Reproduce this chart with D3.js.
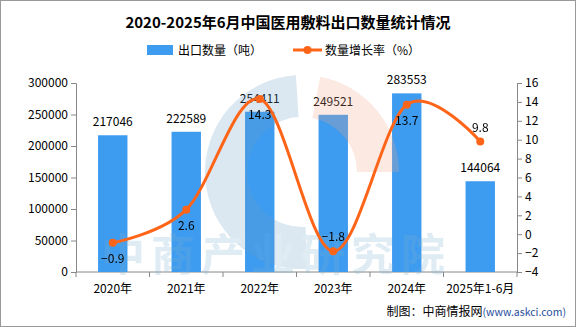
<!DOCTYPE html>
<meta charset="UTF-8">
<style>
body { margin: 0; background: #fff; }
text { font-family: "Noto Sans CJK SC", "DejaVu Sans", sans-serif; }
.axis path, .axis line { stroke: #888; }
.axis text { font-size: 12px; fill: #000; }
</style>
<body>
<script src="https://d3js.org/d3.v7.min.js"></script>
<script>

var categories = ["2020年", "2021年", "2022年", "2023年", "2024年", "2025年1-6月"];
var exportVolume = [217046, 222589, 254411, 249521, 283553, 144064];
var growthRate = [-0.9, 2.6, 14.3, -1.8, 13.7, 9.8];
var leftTicks = [0, 50000, 100000, 150000, 200000, 250000, 300000];
var rightTicks = [-4, -2, 0, 2, 4, 6, 8, 10, 12, 14, 16];
// where the growth label sits: 1 = below the point, -1 = above
var rateLabelSide = [1, 1, 1, -1, 1, -1];

var W = 576, H = 327;
var margin = {top: 83, right: 59, bottom: 55, left: 76};
var width = W - margin.left - margin.right,
    height = H - margin.top - margin.bottom;

var svg = d3.select("body").append("svg")
    .attr("width", W)
    .attr("height", H);

svg.append("rect")
    .attr("x", 0.5).attr("y", 0.5)
    .attr("width", W - 1).attr("height", H - 1)
    .attr("fill", "#fff").attr("stroke", "#999");

svg.append("text")
    .attr("x", W / 2).attr("y", 28)
    .attr("text-anchor", "middle")
    .attr("font-size", 15)
    .attr("font-weight", "bold")
    .text("2020-2025年6月中国医用敷料出口数量统计情况");

// legend
var legend = svg.append("g").attr("font-size", 12);
legend.append("rect")
    .attr("x", 147).attr("y", 45).attr("width", 26).attr("height", 10)
    .attr("fill", "#3d9bf0");
legend.append("text").attr("x", 178).attr("y", 55).text("出口数量（吨）");
legend.append("line")
    .attr("x1", 293).attr("x2", 322).attr("y1", 50).attr("y2", 50)
    .attr("stroke", "#ff6519").attr("stroke-width", 3);
legend.append("circle").attr("cx", 307.5).attr("cy", 50).attr("r", 4).attr("fill", "#ff6519");
legend.append("text").attr("x", 325).attr("y", 55).text("数量增长率（%）");

var g = svg.append("g")
    .attr("transform", "translate(" + margin.left + "," + margin.top + ")");

var x = d3.scaleBand().domain(categories).range([0, width]).paddingInner(0.6).paddingOuter(0.3);
var y = d3.scaleLinear().domain([0, 300000]).range([height, 0]);
var y2 = d3.scaleLinear().domain([-4, 16]).range([height, 0]);

g.append("g")
    .attr("class", "axis")
    .call(d3.axisLeft(y).tickValues(leftTicks).tickSizeOuter(0).tickSize(5).tickFormat(d3.format("d")))
    .call(function(s) { s.selectAll("text").attr("font-size", 12.5); });

g.append("g")
    .attr("class", "axis")
    .attr("transform", "translate(" + width + ",0)")
    .call(d3.axisRight(y2).tickValues(rightTicks).tickSizeOuter(0).tickSize(5).tickFormat(function(d) { return d < 0 ? "−" + Math.abs(d) : d; }))
    .call(function(s) { s.selectAll("text").attr("font-size", 12.5); });

// x axis with ticks on band boundaries
var xAxis = g.append("g").attr("class", "axis").attr("transform", "translate(0," + height + ")");
xAxis.append("line").attr("x1", 0).attr("x2", width).attr("stroke", "#888");
d3.range(categories.length + 1).forEach(function(i) {
  xAxis.append("line")
      .attr("x1", i * width / categories.length).attr("x2", i * width / categories.length)
      .attr("y1", 0).attr("y2", 5).attr("stroke", "#888");
});
xAxis.selectAll("text.cat")
    .data(categories)
  .enter().append("text")
    .attr("class", "cat")
    .attr("x", function(d) { return x(d) + x.bandwidth() / 2; })
    .attr("y", 21)
    .attr("text-anchor", "middle")
    .attr("font-size", 12)
    .text(function(d) { return d; });

// bars
g.selectAll("rect.bar")
    .data(exportVolume)
  .enter().append("rect")
    .attr("class", "bar")
    .attr("x", function(d, i) { return x(categories[i]); })
    .attr("width", x.bandwidth())
    .attr("y", function(d) { return y(d); })
    .attr("height", function(d) { return height - y(d); })
    .attr("fill", "#3d9bf0");

// watermark sits over the bars, under the line
var wm = svg.append("g").attr("opacity", 0.25);
wm.append("path")
    .attr("transform", "translate(302,172)")
    .attr("d", d3.arc().innerRadius(55).outerRadius(97).startAngle(-Math.PI * 0.02).endAngle(-Math.PI * 1.02)())
    .attr("fill", "#6fa3c6");
wm.append("path")
    .attr("transform", "translate(302,172)")
    .attr("d", d3.arc().innerRadius(55).outerRadius(97).startAngle(Math.PI * 0.06).endAngle(Math.PI * 0.5)())
    .attr("fill", "#f0a58a");
wm.append("text")
    .attr("x", 276).attr("y", 271)
    .attr("text-anchor", "middle")
    .attr("font-size", 44)
    .attr("font-weight", "bold")
    .attr("letter-spacing", 6)
    .attr("fill", "#7fb0d3")
    .text("中商产业研究院");

g.selectAll("text.barlab")
    .data(exportVolume)
  .enter().append("text")
    .attr("class", "barlab")
    .attr("x", function(d, i) { return x(categories[i]) + x.bandwidth() / 2; })
    .attr("y", function(d) { return y(d) - 9; })
    .attr("text-anchor", "middle")
    .attr("font-size", 12)
    .text(function(d) { return d; });

// growth line
var cx = function(i) { return x(categories[i]) + x.bandwidth() / 2; };
var line = d3.line()
    .x(function(d, i) { return cx(i); })
    .y(function(d) { return y2(d); })
    .curve(d3.curveCardinal.tension(0));

var lg = svg.append("g")
    .attr("transform", "translate(" + margin.left + "," + margin.top + ")");

lg.append("path")
    .datum(growthRate)
    .attr("fill", "none")
    .attr("stroke", "#ff6519")
    .attr("stroke-width", 3)
    .attr("d", line);

lg.selectAll("circle.pt")
    .data(growthRate)
  .enter().append("circle")
    .attr("class", "pt")
    .attr("cx", function(d, i) { return cx(i); })
    .attr("cy", function(d) { return y2(d); })
    .attr("r", 4)
    .attr("fill", "#ff6519");

lg.selectAll("text.ratelab")
    .data(growthRate)
  .enter().append("text")
    .attr("class", "ratelab")
    .attr("x", function(d, i) { return cx(i); })
    .attr("y", function(d, i) { return y2(d) + (rateLabelSide[i] > 0 ? 20 : -10); })
    .attr("text-anchor", "middle")
    .attr("font-size", 12)
    .text(function(d) { return d < 0 ? "−" + Math.abs(d) : d; });

// source
var src = svg.append("text")
    .attr("x", 566).attr("y", 316)
    .attr("text-anchor", "end")
    .attr("font-size", 12);
src.append("tspan").text("制图：中商情报网");
src.append("tspan").attr("fill", "#1f4e9c").attr("font-size", 10.5).text("(www.askci.com)");

</script>
</body>
